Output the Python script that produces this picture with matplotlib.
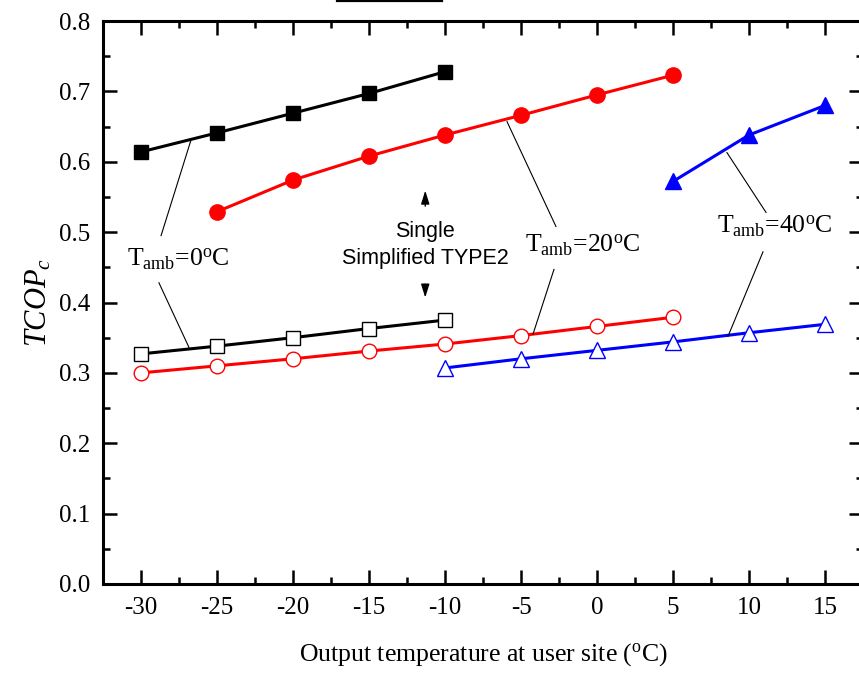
import numpy as np
import matplotlib
matplotlib.use("Agg")
import matplotlib.pyplot as plt
from matplotlib.lines import Line2D
from matplotlib.ticker import MultipleLocator

plt.rcParams['font.family'] = ['Liberation Serif', 'DejaVu Serif']
plt.rcParams['mathtext.fontset'] = 'custom'
plt.rcParams['mathtext.rm'] = 'Liberation Serif'
plt.rcParams['mathtext.it'] = 'Liberation Serif:italic'
plt.rcParams['axes.unicode_minus'] = False

blue = '#0000FF'
red = '#FF0000'

# simplified TYPE2 (filled markers)
t2_x_0 = [-30, -25, -20, -15, -10]
t2_y_0 = [0.614, 0.641, 0.669, 0.697, 0.728]
t2_x_20 = [-25, -20, -15, -10, -5, 0, 5]
t2_y_20 = [0.529, 0.574, 0.608, 0.638, 0.666, 0.695, 0.723]
t2_x_40 = [5, 10, 15]
t2_y_40 = [0.572, 0.638, 0.680]

# single stage (open markers)
s_x_0 = [-30, -25, -20, -15, -10]
s_y_0 = [0.327, 0.338, 0.350, 0.363, 0.375]
s_x_20 = [-30, -25, -20, -15, -10, -5, 0, 5]
s_y_20 = [0.300, 0.310, 0.320, 0.331, 0.341, 0.353, 0.366, 0.379]
s_x_40 = [-10, -5, 0, 5, 10, 15]
s_y_40 = [0.307, 0.320, 0.332, 0.344, 0.357, 0.369]

x_ticks = [-30, -25, -20, -15, -10, -5, 0, 5, 10, 15]

fig = plt.figure(figsize=(8.59, 6.73), dpi=100)
ax = fig.add_axes([103/859, 89/673, 760/859, 563/673])

lw = 2.2
ax.plot(t2_x_0, t2_y_0, color='k', lw=lw, marker='s', ms=10, mfc='k', mec='k')
ax.plot(t2_x_20, t2_y_20, color=red, lw=lw, marker='o', ms=11, mfc=red, mec=red)
ax.plot(t2_x_40, t2_y_40, color=blue, lw=lw, marker='^', ms=12, mfc=blue, mec=blue)

ax.plot(s_x_0, s_y_0, color='k', lw=lw, marker='s', ms=9.5, mfc='white', mec='k', mew=1.0)
ax.plot(s_x_20, s_y_20, color=red, lw=lw, marker='o', ms=10.5, mfc='white', mec=red, mew=1.0)
ax.plot(s_x_40, s_y_40, color=blue, lw=lw, marker='^', ms=12, mfc='white', mec=blue, mew=1.0)

# leader lines from labels to curves
leaders = [
    ((-26.71, 0.631), (-28.68, 0.495)),
    ((-28.82, 0.428), (-26.84, 0.336)),
    ((-5.92, 0.657), (-2.70, 0.508)),
    ((-2.83, 0.447), (-4.21, 0.355)),
    ((8.55, 0.613), (11.12, 0.528)),
    ((10.92, 0.472), (8.62, 0.352)),
]
for (x0, y0), (x1, y1) in leaders:
    ax.plot([x0, x1], [y0, y1], color='k', lw=0.8)

lab_kw = dict(ha='center', va='center', fontsize=18.5)
ax.text(-27.57, 0.462, r'T$_{\mathregular{amb}}$=0$^{\mathregular{o}}$C', **lab_kw)
ax.text(-0.92, 0.481, r'T$_{\mathregular{amb}}$=20$^{\mathregular{o}}$C', **lab_kw)
ax.text(11.71, 0.508, r'T$_{\mathregular{amb}}$=40$^{\mathregular{o}}$C', **lab_kw)

sans = ['Liberation Sans', 'DejaVu Sans']
ax.text(-11.3, 0.5007, 'Single', ha='center', va='center', fontsize=15.5, family=sans)
ax.text(-11.3, 0.4624, 'Simplified TYPE2', ha='center', va='center', fontsize=15.5, family=sans)
arr = dict(arrowstyle='-|>,head_length=0.8,head_width=0.25', color='k', lw=1.0)
ax.annotate('', xy=(-11.3, 0.563), xytext=(-11.3, 0.533), arrowprops=arr)
ax.annotate('', xy=(-11.3, 0.403), xytext=(-11.3, 0.430), arrowprops=arr)

ax.set_xlim(-32.5, 17.5)
ax.set_ylim(0.0, 0.8)
ax.set_xticks(x_ticks)
ax.set_xticklabels([str(v) for v in x_ticks])
ax.xaxis.set_minor_locator(MultipleLocator(2.5))
ax.yaxis.set_major_locator(MultipleLocator(0.1))
ax.yaxis.set_minor_locator(MultipleLocator(0.05))
ax.yaxis.set_major_formatter(matplotlib.ticker.FormatStrFormatter('%.1f'))
ax.tick_params(which='both', direction='in', top=True, right=True, width=1.8)
ax.tick_params(which='major', length=10, labelsize=18, pad=9)
ax.tick_params(which='minor', length=5)
for s in ax.spines.values():
    s.set_linewidth(2.2)

ax.set_xlabel(r'Output temperature at user site ($^{\mathregular{o}}$C)', fontsize=18.5, labelpad=16)
ax.set_ylabel(r'$TCOP_c$', fontsize=22, labelpad=4)

fig.add_artist(Line2D([337/859, 442/859], [0.9978, 0.9978], color='k', lw=1.6))

fig.savefig('out.png', dpi=100)
